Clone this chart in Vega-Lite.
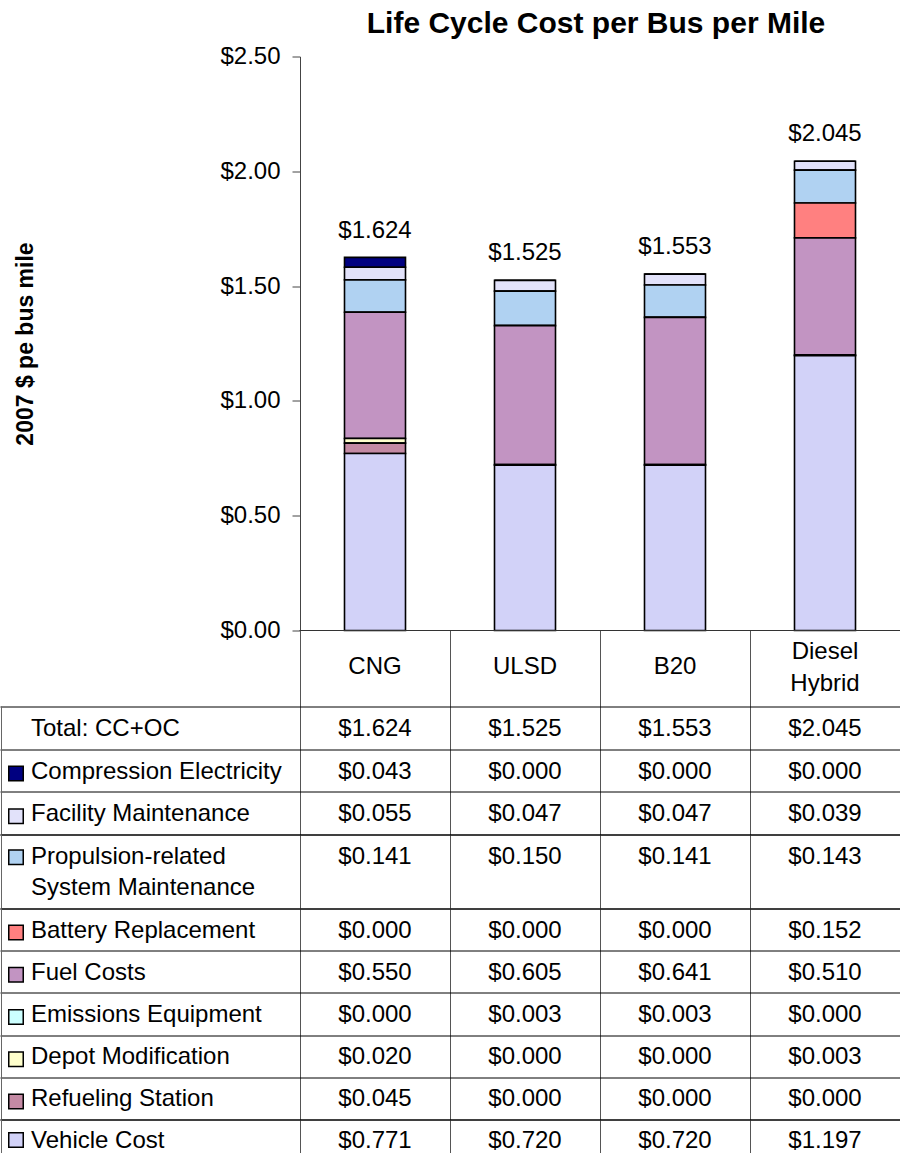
{
  "$schema": "https://vega.github.io/schema/vega-lite/v6.json",
  "padding": {"left": 0, "top": 8.5, "right": 0, "bottom": 0},
  "autosize": {"type": "pad"},
  "spacing": 0,
  "bounds": "flush",
  "config": {
    "view": {"stroke": null},
    "font": "Liberation Sans",
    "text": {"font": "Liberation Sans", "fontSize": 24, "color": "black"}
  },
  "datasets": {
    "components": [
      {"component": "Vehicle Cost", "series": 1},
      {"component": "Refueling Station", "series": 2},
      {"component": "Depot Modification", "series": 3},
      {"component": "Emissions Equipment", "series": 4},
      {"component": "Fuel Costs", "series": 5},
      {"component": "Battery Replacement", "series": 6},
      {"component": "Propulsion-related System Maintenance", "series": 7},
      {"component": "Facility Maintenance", "series": 8},
      {"component": "Compression Electricity", "series": 9}
    ],
    "costs": [
      {"fuel": "CNG", "component": "Compression Electricity", "value": 0.043},
      {"fuel": "ULSD", "component": "Compression Electricity", "value": 0.0},
      {"fuel": "B20", "component": "Compression Electricity", "value": 0.0},
      {"fuel": "Diesel Hybrid", "component": "Compression Electricity", "value": 0.0},
      {"fuel": "CNG", "component": "Facility Maintenance", "value": 0.055},
      {"fuel": "ULSD", "component": "Facility Maintenance", "value": 0.047},
      {"fuel": "B20", "component": "Facility Maintenance", "value": 0.047},
      {"fuel": "Diesel Hybrid", "component": "Facility Maintenance", "value": 0.039},
      {"fuel": "CNG", "component": "Propulsion-related System Maintenance", "value": 0.141},
      {"fuel": "ULSD", "component": "Propulsion-related System Maintenance", "value": 0.150},
      {"fuel": "B20", "component": "Propulsion-related System Maintenance", "value": 0.141},
      {"fuel": "Diesel Hybrid", "component": "Propulsion-related System Maintenance", "value": 0.143},
      {"fuel": "CNG", "component": "Battery Replacement", "value": 0.0},
      {"fuel": "ULSD", "component": "Battery Replacement", "value": 0.0},
      {"fuel": "B20", "component": "Battery Replacement", "value": 0.0},
      {"fuel": "Diesel Hybrid", "component": "Battery Replacement", "value": 0.152},
      {"fuel": "CNG", "component": "Fuel Costs", "value": 0.550},
      {"fuel": "ULSD", "component": "Fuel Costs", "value": 0.605},
      {"fuel": "B20", "component": "Fuel Costs", "value": 0.641},
      {"fuel": "Diesel Hybrid", "component": "Fuel Costs", "value": 0.510},
      {"fuel": "CNG", "component": "Emissions Equipment", "value": 0.0},
      {"fuel": "ULSD", "component": "Emissions Equipment", "value": 0.003},
      {"fuel": "B20", "component": "Emissions Equipment", "value": 0.003},
      {"fuel": "Diesel Hybrid", "component": "Emissions Equipment", "value": 0.0},
      {"fuel": "CNG", "component": "Depot Modification", "value": 0.020},
      {"fuel": "ULSD", "component": "Depot Modification", "value": 0.0},
      {"fuel": "B20", "component": "Depot Modification", "value": 0.0},
      {"fuel": "Diesel Hybrid", "component": "Depot Modification", "value": 0.003},
      {"fuel": "CNG", "component": "Refueling Station", "value": 0.045},
      {"fuel": "ULSD", "component": "Refueling Station", "value": 0.0},
      {"fuel": "B20", "component": "Refueling Station", "value": 0.0},
      {"fuel": "Diesel Hybrid", "component": "Refueling Station", "value": 0.0},
      {"fuel": "CNG", "component": "Vehicle Cost", "value": 0.771},
      {"fuel": "ULSD", "component": "Vehicle Cost", "value": 0.720},
      {"fuel": "B20", "component": "Vehicle Cost", "value": 0.720},
      {"fuel": "Diesel Hybrid", "component": "Vehicle Cost", "value": 1.197}
    ],
    "totals": [
      {"fuel": "CNG", "total": 1.624},
      {"fuel": "ULSD", "total": 1.525},
      {"fuel": "B20", "total": 1.553},
      {"fuel": "Diesel Hybrid", "total": 2.045}
    ]
  },
  "vconcat": [
    {
      "width": 900,
      "height": 574,
      "title": {"text": "Life Cycle Cost per Bus per Mile", "fontSize": 30, "fontWeight": "bold", "anchor": "middle", "dx": 146, "color": "black", "offset": 6},
      "layer": [
        {
          "data": {"name": "costs"},
          "transform": [{"lookup": "component", "from": {"data": {"name": "components"}, "key": "component", "fields": ["series"]}}],
          "mark": {"type": "bar", "size": 61, "stroke": "black", "strokeWidth": 1.6},
          "encoding": {
            "x": {"field": "fuel", "type": "nominal", "scale": {"domain": ["L", "L2", "CNG", "ULSD", "B20", "Diesel Hybrid"], "paddingInner": 0, "paddingOuter": 0}, "axis": null},
            "y": {"field": "value", "type": "quantitative", "stack": "zero",
              "scale": {"domain": [0, 2.5], "nice": false},
              "axis": {"orient": "left", "offset": -300, "values": [0, 0.5, 1, 1.5, 2, 2.5], "format": "$.2f", "grid": false,
                "labelFontSize": 24, "labelColor": "black", "labelPadding": 12, "tickSize": 8, "tickColor": "#444", "domainColor": "#444",
                "title": "2007 $ pe bus mile", "titleFontSize": 23, "titleFontWeight": "bold", "titleColor": "black", "titlePadding": 182}},
            "order": {"field": "series", "type": "quantitative", "sort": "ascending"},
            "color": {"field": "component", "type": "nominal", "legend": null,
              "scale": {"domain": ["Vehicle Cost", "Refueling Station", "Depot Modification", "Emissions Equipment", "Fuel Costs", "Battery Replacement", "Propulsion-related System Maintenance", "Facility Maintenance", "Compression Electricity"],
                "range": ["#d2d2f8", "#c48aa4", "#ffffcc", "#ccffff", "#c294c2", "#ff8080", "#b0d2f2", "#e2e2fa", "#000080"]}}
          }
        },
        {
          "data": {"name": "totals"},
          "mark": {"type": "text", "dy": -20, "baseline": "alphabetic", "fontSize": 24},
          "encoding": {
            "x": {"field": "fuel", "type": "nominal"},
            "y": {"field": "total", "type": "quantitative"},
            "text": {"field": "total", "type": "quantitative", "format": "$.3f"}
          }
        },
        {
          "data": {"name": "totals"},
          "mark": {"type": "tick", "size": 151, "thickness": 1, "color": "#333", "opacity": 1},
          "encoding": {
            "x": {"field": "fuel", "type": "nominal"},
            "y": {"datum": 0, "type": "quantitative"}
          }
        }
      ]
    },
    {
      "width": 900,
      "height": 76,
      "data": {"name": "totals"},
      "layer": [
        {
          "transform": [{"filter": "datum.fuel !== 'Diesel Hybrid'"}],
          "mark": {"type": "text", "fontSize": 24, "baseline": "middle", "dy": -2},
          "encoding": {
            "x": {"field": "fuel", "type": "nominal", "scale": {"domain": ["L", "L2", "CNG", "ULSD", "B20", "Diesel Hybrid"], "paddingInner": 0, "paddingOuter": 0},
              "axis": {"grid": true, "values": ["CNG", "ULSD", "B20", "Diesel Hybrid"], "tickBand": "extent", "labels": false, "ticks": false, "domain": false, "title": null, "gridColor": "#555", "gridOpacity": 1}},
            "text": {"field": "fuel"}
          }
        },
        {
          "transform": [{"filter": "datum.fuel === 'Diesel Hybrid'"}],
          "mark": {"type": "text", "fontSize": 24, "lineBreak": " ", "lineHeight": 32, "baseline": "middle", "dy": -17},
          "encoding": {
            "x": {"field": "fuel", "type": "nominal"},
            "text": {"field": "fuel"}
          }
        }
      ]
    },
    {
      "width": 900,
      "height": 128,
      "layer": [
        {
          "data": {"name": "totals"},
          "mark": {"type": "text", "fontSize": 24, "baseline": "middle", "dy": 1},
          "encoding": {
            "x": {"field": "fuel", "type": "nominal", "scale": {"domain": ["L", "L2", "CNG", "ULSD", "B20", "Diesel Hybrid"], "paddingInner": 0, "paddingOuter": 0},
              "axis": {"grid": true, "values": ["CNG", "ULSD", "B20", "Diesel Hybrid"], "tickBand": "extent", "labels": false, "ticks": false, "domain": false, "title": null, "gridColor": "#555", "gridOpacity": 1}},
            "y": {"datum": "Total: CC+OC", "type": "nominal",
              "scale": {"domain": ["Total: CC+OC", "Compression Electricity", "Facility Maintenance"], "paddingInner": 0, "paddingOuter": 0},
              "axis": {"grid": true, "tickBand": "extent", "labels": false, "ticks": false, "domain": false, "title": null, "gridColor": "#000", "gridOpacity": 1}},
            "text": {"field": "total", "type": "quantitative", "format": "$.3f"}
          }
        },
        {
          "data": {"values": [{"row": "Total: CC+OC"}]},
          "mark": {"type": "rule", "color": "#666", "xOffset": -73.5},
          "encoding": {
            "x": {"datum": "L", "type": "nominal"}
          }
        },
        {
          "data": {"values": [{"row": "Total: CC+OC"}]},
          "mark": {"type": "text", "fontSize": 24, "baseline": "middle", "align": "left", "dx": -44, "dy": 1},
          "encoding": {
            "x": {"datum": "L", "type": "nominal"},
            "y": {"field": "row", "type": "nominal"},
            "text": {"field": "row"}
          }
        },
        {
          "data": {"name": "costs"},
          "transform": [{"filter": {"field": "component", "oneOf": ["Compression Electricity", "Facility Maintenance"]}}],
          "mark": {"type": "text", "fontSize": 24, "baseline": "middle", "dy": 1},
          "encoding": {
            "x": {"field": "fuel", "type": "nominal"},
            "y": {"field": "component", "type": "nominal"},
            "text": {"field": "value", "type": "quantitative", "format": "$.3f"}
          }
        },
        {
          "data": {"name": "costs"},
          "transform": [{"filter": {"field": "component", "oneOf": ["Compression Electricity", "Facility Maintenance"]}}, {"filter": {"field": "fuel", "equal": "CNG"}}],
          "mark": {"type": "text", "fontSize": 24, "baseline": "middle", "align": "left", "dx": -44, "dy": 1},
          "encoding": {
            "x": {"datum": "L", "type": "nominal"},
            "y": {"field": "component", "type": "nominal"},
            "text": {"field": "component"}
          }
        },
        {
          "data": {"name": "costs"},
          "transform": [{"filter": {"field": "component", "oneOf": ["Compression Electricity", "Facility Maintenance"]}}, {"filter": {"field": "fuel", "equal": "CNG"}}],
          "mark": {"type": "point", "shape": "square", "filled": true, "size": 210, "stroke": "black", "strokeWidth": 1.5, "opacity": 1, "xOffset": -59, "yOffset": 3},
          "encoding": {
            "x": {"datum": "L", "type": "nominal"},
            "y": {"field": "component", "type": "nominal"},
            "fill": {"field": "component", "type": "nominal", "legend": null,
              "scale": {"domain": ["Vehicle Cost", "Refueling Station", "Depot Modification", "Emissions Equipment", "Fuel Costs", "Battery Replacement", "Propulsion-related System Maintenance", "Facility Maintenance", "Compression Electricity"],
                "range": ["#d2d2f8", "#c48aa4", "#ffffcc", "#ccffff", "#c294c2", "#ff8080", "#b0d2f2", "#e2e2fa", "#000080"]}}
          }
        }
      ]
    },
    {
      "width": 900,
      "height": 73.5,
      "data": {"name": "costs"},
      "transform": [{"filter": {"field": "component", "equal": "Propulsion-related System Maintenance"}}],
      "layer": [
        {
          "mark": {"type": "text", "fontSize": 24, "baseline": "alphabetic", "dy": -7.5},
          "encoding": {
            "x": {"field": "fuel", "type": "nominal", "scale": {"domain": ["L", "L2", "CNG", "ULSD", "B20", "Diesel Hybrid"], "paddingInner": 0, "paddingOuter": 0},
              "axis": {"grid": true, "values": ["CNG", "ULSD", "B20", "Diesel Hybrid"], "tickBand": "extent", "labels": false, "ticks": false, "domain": false, "title": null, "gridColor": "#555", "gridOpacity": 1}},
            "y": {"field": "component", "type": "nominal",
              "scale": {"domain": ["Propulsion-related System Maintenance"], "paddingInner": 0, "paddingOuter": 0},
              "axis": {"grid": true, "tickBand": "extent", "labels": false, "ticks": false, "domain": false, "title": null, "gridColor": "#000", "gridOpacity": 1}},
            "text": {"field": "value", "type": "quantitative", "format": "$.3f"}
          }
        },
        {
          "transform": [{"filter": {"field": "fuel", "equal": "CNG"}}],
          "mark": {"type": "rule", "color": "#666", "xOffset": -73.5},
          "encoding": {
            "x": {"datum": "L", "type": "nominal"}
          }
        },
        {
          "transform": [{"filter": {"field": "fuel", "equal": "CNG"}}],
          "mark": {"type": "text", "fontSize": 24, "baseline": "alphabetic", "align": "left", "dx": -44, "dy": -7.5, "lineHeight": 31},
          "encoding": {
            "x": {"datum": "L", "type": "nominal"},
            "y": {"field": "component", "type": "nominal"},
            "text": {"value": ["Propulsion-related", "System Maintenance"]}
          }
        },
        {
          "transform": [{"filter": {"field": "fuel", "equal": "CNG"}}],
          "mark": {"type": "point", "shape": "square", "filled": true, "size": 210, "stroke": "black", "strokeWidth": 1.5, "opacity": 1, "xOffset": -59, "yOffset": -14},
          "encoding": {
            "x": {"datum": "L", "type": "nominal"},
            "y": {"field": "component", "type": "nominal"},
            "fill": {"field": "component", "type": "nominal", "legend": null,
              "scale": {"domain": ["Vehicle Cost", "Refueling Station", "Depot Modification", "Emissions Equipment", "Fuel Costs", "Battery Replacement", "Propulsion-related System Maintenance", "Facility Maintenance", "Compression Electricity"],
                "range": ["#d2d2f8", "#c48aa4", "#ffffcc", "#ccffff", "#c294c2", "#ff8080", "#b0d2f2", "#e2e2fa", "#000080"]}}
          }
        }
      ]
    },
    {
      "width": 900,
      "height": 211,
      "data": {"name": "costs"},
      "transform": [{"filter": {"field": "component", "oneOf": ["Battery Replacement", "Fuel Costs", "Emissions Equipment", "Depot Modification", "Refueling Station"]}}],
      "layer": [
        {
          "mark": {"type": "text", "fontSize": 24, "baseline": "middle", "dy": 1},
          "encoding": {
            "x": {"field": "fuel", "type": "nominal", "scale": {"domain": ["L", "L2", "CNG", "ULSD", "B20", "Diesel Hybrid"], "paddingInner": 0, "paddingOuter": 0},
              "axis": {"grid": true, "values": ["CNG", "ULSD", "B20", "Diesel Hybrid"], "tickBand": "extent", "labels": false, "ticks": false, "domain": false, "title": null, "gridColor": "#555", "gridOpacity": 1}},
            "y": {"field": "component", "type": "nominal",
              "scale": {"domain": ["Battery Replacement", "Fuel Costs", "Emissions Equipment", "Depot Modification", "Refueling Station"], "paddingInner": 0, "paddingOuter": 0},
              "axis": {"grid": true, "tickBand": "extent", "labels": false, "ticks": false, "domain": false, "title": null, "gridColor": "#000", "gridOpacity": 1}},
            "text": {"field": "value", "type": "quantitative", "format": "$.3f"}
          }
        },
        {
          "transform": [{"filter": {"field": "component", "equal": "Fuel Costs"}}, {"filter": {"field": "fuel", "equal": "CNG"}}],
          "mark": {"type": "rule", "color": "#666", "xOffset": -73.5},
          "encoding": {
            "x": {"datum": "L", "type": "nominal"}
          }
        },
        {
          "transform": [{"filter": {"field": "fuel", "equal": "CNG"}}],
          "mark": {"type": "text", "fontSize": 24, "baseline": "middle", "align": "left", "dx": -44, "dy": 1},
          "encoding": {
            "x": {"datum": "L", "type": "nominal"},
            "y": {"field": "component", "type": "nominal"},
            "text": {"field": "component"}
          }
        },
        {
          "transform": [{"filter": {"field": "fuel", "equal": "CNG"}}],
          "mark": {"type": "point", "shape": "square", "filled": true, "size": 210, "stroke": "black", "strokeWidth": 1.5, "opacity": 1, "xOffset": -59, "yOffset": 3},
          "encoding": {
            "x": {"datum": "L", "type": "nominal"},
            "y": {"field": "component", "type": "nominal"},
            "fill": {"field": "component", "type": "nominal", "legend": null,
              "scale": {"domain": ["Vehicle Cost", "Refueling Station", "Depot Modification", "Emissions Equipment", "Fuel Costs", "Battery Replacement", "Propulsion-related System Maintenance", "Facility Maintenance", "Compression Electricity"],
                "range": ["#d2d2f8", "#c48aa4", "#ffffcc", "#ccffff", "#c294c2", "#ff8080", "#b0d2f2", "#e2e2fa", "#000080"]}}
          }
        }
      ]
    },
    {
      "width": 900,
      "height": 35,
      "data": {"name": "costs"},
      "transform": [{"filter": {"field": "component", "equal": "Vehicle Cost"}}],
      "layer": [
        {
          "mark": {"type": "text", "fontSize": 24, "baseline": "middle", "dy": 4},
          "encoding": {
            "x": {"field": "fuel", "type": "nominal", "scale": {"domain": ["L", "L2", "CNG", "ULSD", "B20", "Diesel Hybrid"], "paddingInner": 0, "paddingOuter": 0},
              "axis": {"grid": true, "values": ["CNG", "ULSD", "B20", "Diesel Hybrid"], "tickBand": "extent", "labels": false, "ticks": false, "domain": false, "title": null, "gridColor": "#555", "gridOpacity": 1}},
            "y": {"field": "component", "type": "nominal",
              "scale": {"domain": ["Vehicle Cost"], "paddingInner": 0, "paddingOuter": 0},
              "axis": {"grid": true, "tickBand": "extent", "labels": false, "ticks": false, "domain": false, "title": null, "gridColor": "#000", "gridOpacity": 1}},
            "text": {"field": "value", "type": "quantitative", "format": "$.3f"}
          }
        },
        {
          "transform": [{"filter": {"field": "fuel", "equal": "CNG"}}],
          "mark": {"type": "rule", "color": "#666", "xOffset": -73.5},
          "encoding": {
            "x": {"datum": "L", "type": "nominal"}
          }
        },
        {
          "transform": [{"filter": {"field": "fuel", "equal": "CNG"}}],
          "mark": {"type": "text", "fontSize": 24, "baseline": "middle", "align": "left", "dx": -44, "dy": 4},
          "encoding": {
            "x": {"datum": "L", "type": "nominal"},
            "y": {"field": "component", "type": "nominal"},
            "text": {"field": "component"}
          }
        },
        {
          "transform": [{"filter": {"field": "fuel", "equal": "CNG"}}],
          "mark": {"type": "point", "shape": "square", "filled": true, "size": 210, "stroke": "black", "strokeWidth": 1.5, "opacity": 1, "xOffset": -59, "yOffset": 3},
          "encoding": {
            "x": {"datum": "L", "type": "nominal"},
            "y": {"field": "component", "type": "nominal"},
            "fill": {"field": "component", "type": "nominal", "legend": null,
              "scale": {"domain": ["Vehicle Cost", "Refueling Station", "Depot Modification", "Emissions Equipment", "Fuel Costs", "Battery Replacement", "Propulsion-related System Maintenance", "Facility Maintenance", "Compression Electricity"],
                "range": ["#d2d2f8", "#c48aa4", "#ffffcc", "#ccffff", "#c294c2", "#ff8080", "#b0d2f2", "#e2e2fa", "#000080"]}}
          }
        }
      ]
    }
  ]
}
